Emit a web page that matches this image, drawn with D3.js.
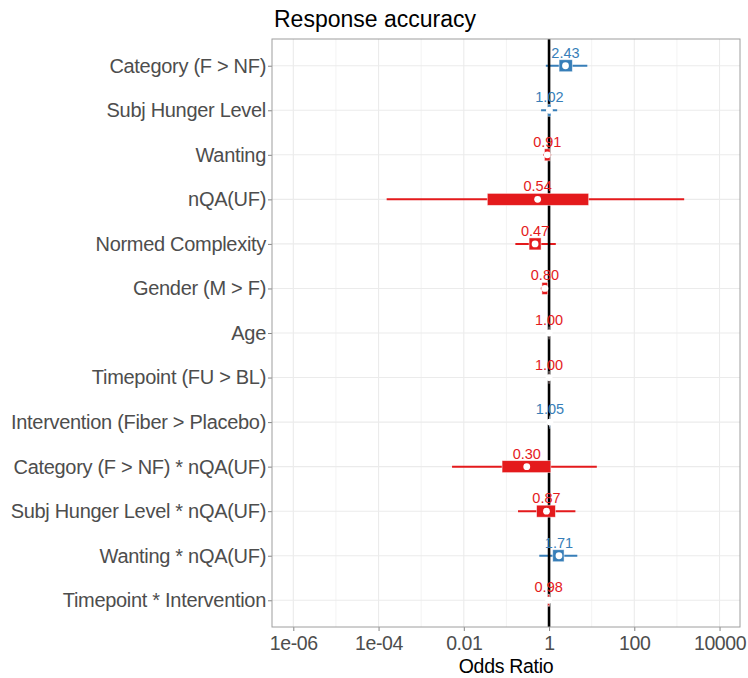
<!DOCTYPE html>
<html>
<head>
<meta charset="utf-8">
<script src="https://cdn.jsdelivr.net/npm/d3@7"></script>
<style>
  html, body { margin: 0; padding: 0; background: #fff; }
  text { font-family: "Liberation Sans", Arial, Helvetica, sans-serif; }
</style>
</head>
<body>
<svg id="chart" width="748" height="678"></svg>
<script>
// Model terms, top to bottom
const terms = [
  "Category (F > NF)",
  "Subj Hunger Level",
  "Wanting",
  "nQA(UF)",
  "Normed Complexity",
  "Gender (M > F)",
  "Age",
  "Timepoint (FU > BL)",
  "Intervention (Fiber > Placebo)",
  "Category (F > NF) * nQA(UF)",
  "Subj Hunger Level * nQA(UF)",
  "Wanting * nQA(UF)",
  "Timepoint * Intervention"
];
// Odds ratio estimates (as labelled)
const estimates = [2.43, 1.02, 0.91, 0.54, 0.47, 0.80, 1.00, 1.00, 1.05, 0.30, 0.87, 1.71, 0.98];
// Outer (wide) interval
const outerLow  = [0.84, 0.65, 0.74, 0.000155, 0.162, 0.64, 0.99, 0.985, 0.99, 0.0053, 0.187, 0.59, 0.955];
const outerHigh = [7.9, 1.55, 1.12, 1480, 1.44, 0.97, 1.01, 1.015, 1.11, 13.2, 4.15, 4.6, 1.0];
// Inner (thick) interval
const innerLow  = [1.72, 0.93, 0.78, 0.0356, 0.34, 0.68, 0.997, 0.995, 1.03, 0.079, 0.51, 1.22, 0.93];
const innerHigh = [3.52, 1.11, 1.06, 8.5, 0.65, 0.93, 1.003, 1.005, 1.07, 1.1, 1.41, 2.25, 1.03];
// Axis ticks
const majorTicks = [1e-6, 1e-4, 0.01, 1, 100, 10000];
const majorTickLabels = ["1e-06", "1e-04", "0.01", "1", "100", "10000"];
const minorTicks = [1e-5, 1e-3, 0.1, 10, 1000];

const rows = terms.map((t, i) => ({
  term: t, est: estimates[i],
  lo: outerLow[i], hi: outerHigh[i],
  ilo: innerLow[i], ihi: innerHigh[i]
}));

const colPos = "#377EB8", colNeg = "#E41A1C";
const colorOf = d => (d.est > 1 ? colPos : colNeg);

const W = 748, H = 678;
const margin = { top: 39, right: 8, bottom: 51, left: 272 };
const svg = d3.select("#chart");

const x = d3.scaleLog()
  .domain([Math.pow(10, -6.5), Math.pow(10, 4.48)])
  .range([margin.left, W - margin.right]);
const y = d3.scalePoint()
  .domain(terms)
  .range([margin.top, H - margin.bottom])
  .padding(0.6);

// grid
const grid = svg.append("g");
grid.selectAll("line.minor").data(minorTicks).join("line")
  .attr("x1", d => x(d)).attr("x2", d => x(d))
  .attr("y1", margin.top).attr("y2", H - margin.bottom)
  .attr("stroke", "#f0f0f0").attr("stroke-width", 0.8);
grid.selectAll("line.majx").data(majorTicks).join("line")
  .attr("x1", d => x(d)).attr("x2", d => x(d))
  .attr("y1", margin.top).attr("y2", H - margin.bottom)
  .attr("stroke", "#ebebeb").attr("stroke-width", 1.1);
grid.selectAll("line.majy").data(terms).join("line")
  .attr("x1", margin.left).attr("x2", W - margin.right)
  .attr("y1", d => y(d)).attr("y2", d => y(d))
  .attr("stroke", "#ebebeb").attr("stroke-width", 1.1);

// axes
const xAxis = svg.append("g")
  .attr("transform", `translate(0,${H - margin.bottom})`)
  .call(d3.axisBottom(x).tickValues(majorTicks)
    .tickFormat((d, i) => majorTickLabels[i]).tickSize(4).tickPadding(2));
xAxis.select(".domain").remove();
xAxis.selectAll(".tick line").attr("stroke", "#333").attr("stroke-width", 0.6);
xAxis.selectAll(".tick text").attr("fill", "#4d4d4d").attr("font-size", "19.5px")
  .attr("letter-spacing", "-0.4px").attr("dy", "0.85em");

const yAxis = svg.append("g")
  .attr("transform", `translate(${margin.left},0)`)
  .call(d3.axisLeft(y).tickSize(4).tickPadding(2));
yAxis.select(".domain").remove();
yAxis.selectAll(".tick line").attr("stroke", "#333").attr("stroke-width", 0.6);
yAxis.selectAll(".tick text").attr("fill", "#4d4d4d").attr("font-size", "20px")
  .attr("letter-spacing", "-0.3px");

// outer intervals
svg.append("g").selectAll("line").data(rows).join("line")
  .attr("x1", d => x(d.lo)).attr("x2", d => x(d.hi))
  .attr("y1", d => y(d.term)).attr("y2", d => y(d.term))
  .attr("stroke", colorOf).attr("stroke-width", 2);

// reference line at OR = 1
svg.append("line")
  .attr("x1", x(1)).attr("x2", x(1))
  .attr("y1", margin.top).attr("y2", H - margin.bottom)
  .attr("stroke", "#000").attr("stroke-width", 2.6);

// inner intervals
svg.append("g").selectAll("rect").data(rows).join("rect")
  .attr("x", d => x(d.ilo)).attr("width", d => x(d.ihi) - x(d.ilo))
  .attr("y", d => y(d.term) - 6).attr("height", 12)
  .attr("fill", colorOf)
  .attr("stroke", "#fff").attr("stroke-opacity", 0.6).attr("stroke-width", 0.8);

// point estimates
svg.append("g").selectAll("circle").data(rows).join("circle")
  .attr("cx", d => x(d.est)).attr("cy", d => y(d.term)).attr("r", 3.4)
  .attr("fill", "#fff");

// value labels
svg.append("g").selectAll("text").data(rows).join("text")
  .attr("x", d => x(d.est)).attr("y", d => y(d.term) - 8)
  .attr("text-anchor", "middle").attr("font-size", "14.5px")
  .attr("fill", colorOf)
  .text(d => d.est.toFixed(2));

// panel border
svg.append("rect")
  .attr("x", margin.left).attr("y", margin.top)
  .attr("width", W - margin.left - margin.right)
  .attr("height", H - margin.top - margin.bottom)
  .attr("fill", "none").attr("stroke", "#9e9e9e").attr("stroke-width", 1);

// titles
svg.append("text").attr("x", 274).attr("y", 27)
  .attr("font-size", "23px").attr("fill", "#000").text("Response accuracy");
svg.append("text").attr("x", (margin.left + W - margin.right) / 2).attr("y", 673)
  .attr("text-anchor", "middle").attr("font-size", "19.5px").attr("fill", "#000")
  .attr("letter-spacing", "-0.3px")
  .text("Odds Ratio");
</script>
</body>
</html>
